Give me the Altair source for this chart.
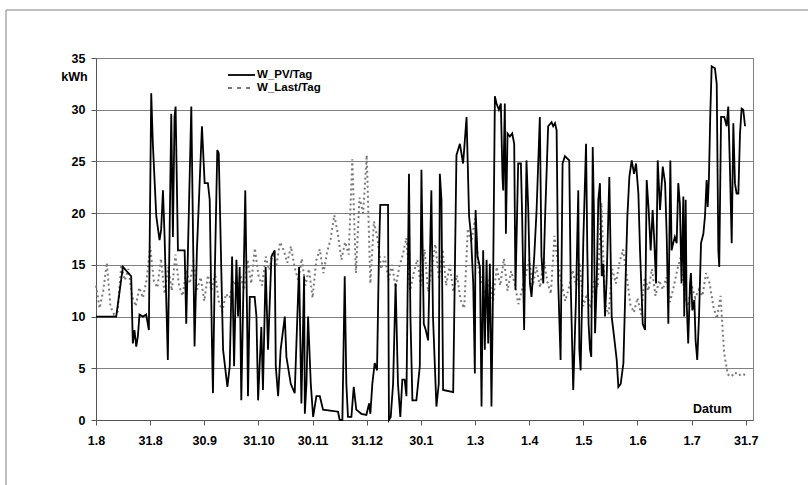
import altair as alt
import pandas as pd

# ---------------- data ----------------
tick_labels = ["1.8", "31.8", "30.9", "31.10", "30.11", "31.12", "30.1",
               "1.3", "1.4", "1.5", "1.6", "1.7", "31.7"]
tick_days = [0, 30, 60, 90, 120, 150, 180, 210, 240, 270, 300, 330, 360]
y_ticks = [0, 5, 10, 15, 20, 25, 30, 35]
series_names = ["W_PV/Tag", "W_Last/Tag"]

pv_day = [0, 11.2, 14.9, 19.5, 20.4, 21.3, 22.3, 23.2, 24.1, 26, 27.8, 28.7, 29.3, 29.7,
          30.6, 31.5, 33.4, 35.2, 36.1, 37.1, 38, 39.8, 41.7, 42.6, 43.5, 44.1, 45.4, 49.1,
          50, 52.8, 54.6, 55.9, 58.7, 60.2,
          62, 63, 64.3, 64.8, 65.7, 67.2, 68, 70.4, 72.8, 74.1, 75.4, 76.5, 77.8, 78.7,
          79.6, 80.5, 82.7, 83.7, 84.2, 85.2, 87.9, 88.9, 89.8, 91.6, 92.5, 94, 95.3,
          97.2, 99, 99.6, 100.9, 102.3, 104.6, 105.5, 107.9, 110.1, 112.5, 113.8, 115.3,
          115.7, 116.6, 117.5, 119, 120.3, 122.1, 124, 125.8,
          134.1, 135, 136.5, 137.8, 138.7, 139.6, 141.5, 142.8, 144.2, 147, 149.8, 151.3,
          152, 153.1, 154.4, 155.7, 156.8, 157.5, 161.8, 162.3, 163.3, 164.6, 166, 167.3,
          168.6, 169.7, 171, 172, 173.4, 174.2, 175.3, 177.5, 179.4, 180.3, 181.6, 182.7,
          184, 185.8, 186.7,
          188.6, 189.9, 190.5, 191.4, 191.8, 192.3, 197.9, 199.7, 201.6, 203.4, 205.3,
          206.7, 207.7, 209, 209.9, 210.3, 211.4, 212.7, 213.6, 214.5, 215.4, 216.4, 217.3,
          218.2, 219.1, 220, 221, 221.9, 223.2, 224.3, 225.2, 225.6, 226.5, 227.1, 228,
          229.3, 230.6, 231.7, 232.4, 233.9, 235.4, 236.1, 237.2, 238.5, 239.5, 240.4,
          241.3, 242.8, 244.1, 245.9, 246.8, 247.8, 248.7, 250.5, 252.4, 253.3,
          254.3, 255.2, 256.1, 257.4, 258.5, 259.8, 262.2, 263, 264.4, 265.9, 267.2, 267.8,
          268.5, 270, 271.5, 272.2, 272.9, 273.7, 274.4, 275.2, 275.9, 276.5, 277.4, 278.3,
          279.2, 280.2, 281.1, 282, 282.9, 284.4, 285.7, 287, 288.5, 289.4, 290.7, 292.2,
          293.6, 294.4, 295.5, 296.8, 298.1, 299.2, 300.5, 301.4, 302.9, 304.2, 305.1,
          306.2, 307.3, 308.4, 309.2, 310.3, 311.2, 312.5, 314, 315.3, 316.2,
          317.1, 317.6, 318.2, 318.9, 319.8, 320.7, 321.7, 322.6, 323.5, 324.4, 325.4,
          325.9, 326.7, 327.2, 328.1, 329.1, 329.6, 330.4, 331.5, 332.2, 333.1, 334.1,
          335.2, 336.5, 337.4, 338.3, 338.9, 339.6, 340.3, 341.1, 342.9, 343.9, 344.8,
          345.3, 346.3, 348.1, 349.4, 350.3, 351.2, 352.2, 353.1, 354, 354.9, 355.9, 356.8,
          357.7, 358.6, 359.6]

pv_kwh = [10, 10, 14.8, 13.9, 7.4, 8.7, 7.1, 8.1, 10.2, 10, 10.2, 9.3, 8.7, 16.4,
          31.6, 26.7, 19.7, 17.4, 18.4, 22.2, 17.7, 5.8, 29.6, 17.7, 29.3, 30.3, 16.4, 16.4,
          9.3, 30.3, 7.1, 16.4, 28.4, 22.9,
          22.9, 21.3, 6.8, 2.6, 13.2, 26.1, 25.8, 6.8, 3.2, 5.2, 15.8, 5.2, 15.5, 10,
          14.8, 1.9, 22.2, 10, 2.3, 11.9, 11.9, 10, 1.9, 9, 2.9, 14.8, 6.8,
          15.8, 16.4, 5.2, 2.3, 6.8, 10, 6.1, 3.5, 2.6, 14.8, 1.6, 13.9,
          0.6, 3.5, 10, 3.5, 0.3, 2.3, 2.3, 1,
          0.8, 0, 0, 13.9, 3.5, 0.3, 0.3, 3.2, 1, 0.6, 0.5, 1.6,
          0.6, 3.5, 5.5, 4.8, 16.4, 20.8, 20.8, 0, 0.3, 3.5, 13.2, 3.5,
          0.3, 3.9, 3.9, 2.3, 23.8, 10, 1.9, 1.9, 5.2, 24.2, 9.3, 8.7,
          7.7, 22.2, 10,
          1.3, 3.5, 23.8, 21.3, 13.2, 2.9, 2.7, 25.6, 26.7, 24.8, 29.3,
          19.7, 18, 13.2, 4.5, 20.3, 15.8, 14.8, 1.3, 16.4, 6.8, 15.5, 7.4,
          15.1, 1.3, 13.2, 31.3, 30.6, 30, 30.6, 23.5, 22.2, 30.6, 18, 27.7,
          27.4, 27.7, 26.7, 12.6, 24.8, 24.8, 19.7, 8.7, 25.1, 20.3, 13.2,
          11.9, 15.8, 20.3, 29.3, 15.8, 13.2, 19, 28.4, 28.8, 28.4,
          28.7, 28, 13.2, 5.8, 24.8, 25.5, 25.1, 13.2, 2.9, 11.6, 22.2, 6.8,
          4.8, 17.4, 26.7, 16.4, 9.3, 6.8, 6.1, 26.4, 19.7, 8.4, 13.2, 21.3,
          22.9, 13.9, 15.1, 10, 13.5, 23.5, 10, 8.1, 5.8, 3.2, 3.5, 5.5,
          14.8, 19.7, 23.5, 25.1, 23.8, 24.8, 21.9, 16.4, 9.3, 8.7, 23.2,
          20.3, 16.4, 20.3, 17.7, 13.2, 25.1, 20.3, 24.5, 22.9, 17.7,
          9.3, 16.4, 25.1, 16.4, 17.1, 17.7, 17.1, 22.9, 20.9, 13.2, 21.6,
          10, 21.3, 11.6, 7.4, 13.2, 14.2, 10.6, 11.6, 7.7, 5.8, 10,
          17.1, 18, 19.7, 23.2, 20.6, 23.5, 29.3, 34.2, 34, 32.5, 16.4,
          14.8, 29.3, 29.3, 28.4, 30.3, 24.5, 17.1, 28.7, 22.9, 21.9, 21.9, 27.7,
          30.1, 30, 28.4]

# W_Last/Tag, one reading every second day from 1.8 on
last_kwh = [13, 10.8, 12.5, 15.2, 11, 10.2, 10.5, 15, 13.5, 14.6, 12, 11, 12.8, 11.8,
            13.5, 16.8, 13.5, 12.8, 15.6, 12.2, 14.8, 12.5, 16, 13, 12, 14.5, 13.2, 15.4,
            12.6, 13.8, 11.5, 14, 12.5, 14.2, 11.5, 10.5, 12.2, 11.8, 13.5, 12.8, 14, 12.6,
            15.5, 13.2, 16.6, 14, 13, 15.8, 14.5, 16.2, 15, 17.2, 16.4, 15.2, 16.8, 14.8,
            13.5, 15.6, 13, 14.6, 11.8, 15.4, 16.5, 14.2, 16.2, 17.5, 19.8, 18, 15.5, 17.2,
            16, 25.2, 14.2, 21.5, 20, 25.6, 13.2, 19.2, 17.5, 14.6, 15.8, 13.5, 15, 12.8,
            14.8, 16, 17.6, 12.5, 14.2, 15.5, 13, 16.5, 12.4, 14.8, 17, 13.6, 16.5, 13, 15,
            12.4, 14, 11.6, 10.8, 18.5, 17.2, 19.5, 14.5, 13.2, 12, 13.6, 11.5, 14.8, 13,
            15.6, 12.5, 14.4, 13.2, 11.2, 12.6, 14, 15.5, 13, 14.8, 12.8, 15.6, 13.4, 12.2,
            17.8, 15, 13.2, 11.5, 12.8, 14.5, 13, 15.2, 11, 12.2, 10.8, 13.6, 12.8, 21,
            11.2, 10.2, 14.6, 13.2, 15.2, 16.5, 14, 11.2, 10.4, 11.8, 10.2, 13.8, 12.5,
            14.6, 12, 13.5, 12.6, 13.8, 11.4, 12.8, 14.5, 15.8, 12.2, 11, 13, 11.8, 12.6,
            12, 14.2, 13.2, 11, 9.8, 12, 6.5, 4.4, 4.2, 4.6, 4.3, 4.5, 4.3]
last_day = list(range(0, 2 * len(last_kwh), 2))

# ---------------- chart ----------------
FONT = "Liberation Sans"
PLOT_W, PLOT_H = 657, 362

pv_df = pd.DataFrame({"day": pv_day, "kWh": pv_kwh})
last_df = pd.DataFrame({"day": last_day, "kWh": last_kwh})

label_expr = ("[" + ",".join("'%s'" % t for t in tick_labels) + "]"
              "[round(datum.value/30)]")

x_enc = alt.X(
    "day:Q",
    scale=alt.Scale(domain=[0, 364], nice=False, zero=False),
    axis=alt.Axis(values=tick_days, labelExpr=label_expr, title="Datum",
                  titleX=616, titleY=-12, titleAlign="center", titleBaseline="middle",
                  titleFont=FONT, titleFontSize=12.5, titleFontWeight="bold",
                  titleColor="black", labelFont=FONT, labelFontSize=12.5,
                  labelFontWeight="bold", labelColor="black", labelPadding=9,
                  labelFlush=False, labelOverlap=False, tickSize=5, grid=False,
                  domainColor="#555555", tickColor="#555555"),
)
y_enc = alt.Y(
    "kWh:Q",
    scale=alt.Scale(domain=[0, 35], nice=False),
    axis=alt.Axis(values=y_ticks, title="kWh", titleAngle=0, titleX=-22, titleY=18,
                  titleAlign="center", titleBaseline="middle", titleFont=FONT,
                  titleFontSize=12.5, titleFontWeight="bold", titleColor="black",
                  labelFont=FONT, labelFontSize=12.5, labelFontWeight="bold",
                  labelColor="black", labelPadding=6, tickSize=5, grid=True,
                  gridColor="#808080", gridWidth=1, domainColor="#555555",
                  tickColor="#555555"),
)

last_line = alt.Chart(last_df).mark_line(
    color="#7a7a7a", strokeWidth=2, strokeDash=[2, 3]
).encode(x=x_enc, y=y_enc)

pv_line = alt.Chart(pv_df).mark_line(
    color="black", strokeWidth=1.8
).encode(x="day:Q", y="kWh:Q")

# legend (drawn by hand to match the original compact layout)
leg_pv = pd.DataFrame({"label": [series_names[0]]})
leg_last = pd.DataFrame({"label": [series_names[1]]})

leg_rule_pv = alt.Chart(leg_pv).mark_rule(color="black", strokeWidth=1.8).encode(
    x=alt.value(132), x2=alt.value(159), y=alt.value(17))
leg_rule_last = alt.Chart(leg_last).mark_rule(
    color="#7a7a7a", strokeWidth=2, strokeDash=[4, 5]).encode(
    x=alt.value(132), x2=alt.value(159), y=alt.value(30))
leg_text_pv = alt.Chart(leg_pv).mark_text(
    align="left", baseline="middle", font=FONT, fontSize=11.5, fontWeight="bold",
    color="black").encode(x=alt.value(161), y=alt.value(17), text="label:N")
leg_text_last = alt.Chart(leg_last).mark_text(
    align="left", baseline="middle", font=FONT, fontSize=11.5, fontWeight="bold",
    color="black").encode(x=alt.value(161), y=alt.value(30), text="label:N")

# outer chart-area frame
frame = alt.Chart(pd.DataFrame({"f": [1]})).mark_rect(
    fillOpacity=0, stroke="#808080", strokeWidth=1).encode(
    x=alt.value(-90), x2=alt.value(740), y=alt.value(-48), y2=alt.value(460))

chart = alt.layer(
    frame, last_line, pv_line, leg_rule_pv, leg_rule_last, leg_text_pv, leg_text_last
).properties(
    width=PLOT_W, height=PLOT_H,
    autosize=alt.AutoSizeParams(type="none"),
    padding={"left": 96, "top": 58, "right": 55, "bottom": 65},
    background="white",
).configure_view(stroke="#808080", strokeWidth=1)

chart.save("out.html", embed_options={"renderer": "svg", "actions": False})
